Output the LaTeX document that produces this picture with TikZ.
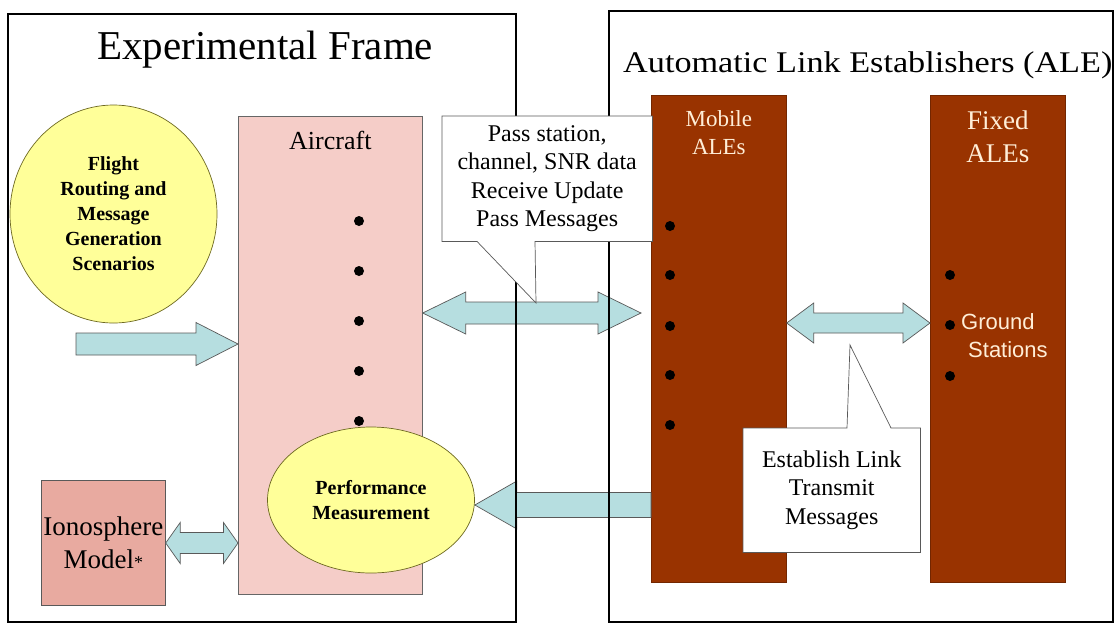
\documentclass[tikz,border=0pt]{standalone}
\usepackage{fontspec}
\setmainfont{Liberation Serif}
\newfontfamily\gsfont{Liberation Sans}
\usepackage{tikz}
\usetikzlibrary{calc,shapes.geometric}

\definecolor{acpink}{RGB}{245,205,200}
\definecolor{ionopink}{RGB}{232,170,160}
\definecolor{alebrown}{RGB}{153,51,0}
\definecolor{bubyellow}{RGB}{255,255,153}
\definecolor{arrcyan}{RGB}{182,222,224}
\definecolor{cream}{RGB}{255,238,215}

% fat arrows: tail/tip, shaft half width, head half width, head length
\newcommand{\fatarrow}[5]{%
  \coordinate (hb) at ($(#2)!#5pt!(#1)$);
  \draw[fatarr] ($(#1)+(0,#3)$) -- ($(hb)+(0,#3)$) -- ($(hb)+(0,#4)$) -- (#2)
    -- ($(hb)+(0,-#4)$) -- ($(hb)+(0,-#3)$) -- ($(#1)+(0,-#3)$) -- cycle;}
\newcommand{\fatdouble}[5]{%
  \coordinate (hba) at ($(#1)!#5pt!(#2)$);
  \coordinate (hbb) at ($(#2)!#5pt!(#1)$);
  \draw[fatarr] (#1) -- ($(hba)+(0,-#4)$) -- ($(hba)+(0,-#3)$) -- ($(hbb)+(0,-#3)$)
    -- ($(hbb)+(0,-#4)$) -- (#2) -- ($(hbb)+(0,#4)$) -- ($(hbb)+(0,#3)$)
    -- ($(hba)+(0,#3)$) -- ($(hba)+(0,#4)$) -- cycle;}

\begin{document}
\begin{tikzpicture}[x=1pt,y=-1pt,
    frame/.style={draw=black,line width=2.2pt},
    acbox/.style={draw=gray!80!black,fill=acpink,line width=.7pt,inner sep=0},
    alebox/.style={draw=alebrown!75!black,fill=alebrown,line width=.7pt,inner sep=0},
    bubble/.style={ellipse,draw=olive!70!black,fill=bubyellow,line width=.7pt,inner sep=0,
      align=center,font=\bfseries\fontsize{20}{25}\selectfont},
    fatarr/.style={draw=gray!70!black,fill=arrcyan,line width=.7pt},
    callout/.style={draw=gray!70!black,fill=white,line width=.7pt},
    txt/.style={inner sep=0,align=center,font=\fontsize{24}{28.5}\selectfont}]
  \useasboundingbox (0,0) rectangle (1116,625);
  \fill[white] (0,0) rectangle (1116,625);

  % experimental frame
  \node[bubble,minimum width=207,minimum height=218] (fr) at (113.5,214)
    {Flight\\Routing and\\Message\\Generation\\Scenarios};
  \node[acbox,minimum width=184,minimum height=478,anchor=north west] (ac) at (238,116) {};
  \node[inner sep=0,anchor=base,font=\fontsize{26}{30}\selectfont] (act) at (ac.north |- 0,149) {Aircraft};
  \foreach \y in {221,271,...,421}
    \fill (359,\y) circle (5);
  \node[bubble,minimum width=207,minimum height=146] (pm) at (371,500) {Performance\\Measurement};
  \node[draw=gray!70!black,fill=ionopink,line width=.7pt,inner sep=0,minimum width=124,minimum height=125,
    anchor=north west] (im) at (41,480) {};
  \node[txt,font=\fontsize{27}{33}\selectfont] (imt) at (im.center)
    {Ionosphere\\Model{\fontsize{18}{18}\selectfont*}};

  % ALEs
  \node[alebox,minimum width=135,minimum height=487,anchor=north west] (mob) at (651,95) {};
  \node[txt,text=cream,font=\fontsize{23}{28}\selectfont] (mobt) at (mob.north |- 0,133) {Mobile\\ALEs};
  \foreach \y in {226,275,326,375,425}
    \fill (670,\y) circle (5);
  \node[alebox,minimum width=135,minimum height=487,anchor=north west] (fix) at (930,95) {};
  \node[txt,text=cream,font=\fontsize{27}{33}\selectfont] (fixt) at (fix.north |- 0,137) {Fixed\\ALEs};
  \foreach \y in {275,325,376}
    \fill (950,\y) circle (5);
  \node[inner sep=0,anchor=west,align=left,text=cream,font=\gsfont\fontsize{22}{28}\selectfont] (gs)
    at (961,336) {Ground\\\hspace{7pt}Stations};

  % arrows
  \coordinate (fa0) at (76,344);
  \coordinate (fa1) at (ac.west |- 0,344);
  \fatarrow{fa0}{fa1}{11}{21.5}{42}
  \coordinate (da0) at (ac.east |- 0,313);
  \coordinate (da1) at (641,313);
  \fatdouble{da0}{da1}{11}{21}{43}
  \coordinate (ma0) at (mob.east |- 0,323);
  \coordinate (ma1) at (fix.west |- 0,323);
  \fatdouble{ma0}{ma1}{10}{20}{27}
  \coordinate (ia0) at (im.east |- 0,543);
  \coordinate (ia1) at (ac.west |- 0,543);
  \fatdouble{ia0}{ia1}{10.5}{20.5}{14.5}
  \coordinate (pa0) at (mob.west |- 0,505);
  \coordinate (pa1) at (pm.east |- 0,505);
  \fatarrow{pa0}{pa1}{12.5}{24}{42}

  \draw[frame] (8,14) rectangle (516,622);
  \draw[frame] (609,11) rectangle (1113,622);
  \node[inner sep=0,anchor=base west,font=\fontsize{41}{45}\selectfont] (eft) at (97,59) {Experimental Frame};
  \node[inner sep=0,anchor=base west,font=\fontsize{30}{34}\selectfont] (alet) at (623,72)
    {\scalebox{1.14}[1]{Automatic Link Establishers (ALE)}};

  % callouts
  \node[inner sep=0,minimum width=210,minimum height=125,anchor=north west] (pc) at (442,116) {};
  \coordinate (ptip) at (536,303);
  \draw[callout] (pc.north west) -- (pc.north east) -- (pc.south east) -- ($(pc.south west)+(93,0)$)
    -- (ptip) -- ($(pc.south west)+(35,0)$) -- (pc.south west) -- cycle;
  \node[txt] (pct) at (pc.center) {Pass station,\\channel, SNR data\\Receive Update\\Pass Messages};

  \node[inner sep=0,minimum width=177,minimum height=124,anchor=north west] (ec) at (743,428) {};
  \coordinate (etip) at (850,345);
  \draw[callout] (ec.north west) -- ($(ec.north west)+(104,0)$) -- (etip) -- ($(ec.north west)+(148,0)$)
    -- (ec.north east) -- (ec.south east) -- (ec.south west) -- cycle;
  \node[txt] (ect) at (ec.center) {Establish Link\\Transmit\\Messages};
\end{tikzpicture}
\end{document}
